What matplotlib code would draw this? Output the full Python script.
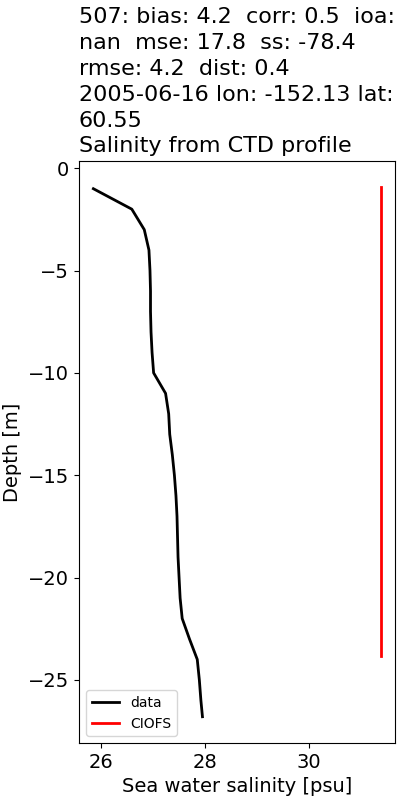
import numpy as np
import matplotlib
matplotlib.use("Agg")
import matplotlib.pyplot as plt

# CTD salinity profile (psu) vs depth (m)
data_depth = np.array([-1, -2, -3, -4, -5, -6, -7, -8, -9, -10, -11, -12, -13, -14,
                       -15, -16, -17, -18, -19, -20, -21, -22, -23, -24, -25, -26, -26.8])
data_sal = np.array([25.85, 26.59, 26.83, 26.92, 26.94, 26.95, 26.95, 26.96, 26.98, 27.01,
                     27.24, 27.30, 27.32, 27.37, 27.41, 27.44, 27.46, 27.47, 27.48, 27.50,
                     27.52, 27.56, 27.70, 27.85, 27.89, 27.92, 27.95])

# model (CIOFS) profile
model_depth = np.array([-0.93, -5.0, -10.0, -15.0, -20.0, -23.84])
model_sal = np.array([31.38, 31.38, 31.38, 31.38, 31.38, 31.38])

title = ("507: bias: 4.2  corr: 0.5  ioa:\nnan  mse: 17.8  ss: -78.4\n"
         "rmse: 4.2  dist: 0.4\n2005-06-16 lon: -152.13 lat:\n60.55\n"
         "Salinity from CTD profile")

fig, ax = plt.subplots(figsize=(4, 8), dpi=100)
fig.subplots_adjust(left=0.1975, right=0.9875, top=0.799, bottom=0.071)

ax.plot(data_sal, data_depth, color='k', lw=2, label='data')
ax.plot(model_sal, model_depth, color='r', lw=2, label='CIOFS')

ax.set_title(title, loc='left', fontsize=16, linespacing=1.37)
ax.set_xlabel('Sea water salinity [psu]', fontsize=14)
ax.set_ylabel('Depth [m]', fontsize=14)
ax.tick_params(labelsize=14)
ax.legend(loc='lower left', fontsize=10)

fig.savefig('out.png')
